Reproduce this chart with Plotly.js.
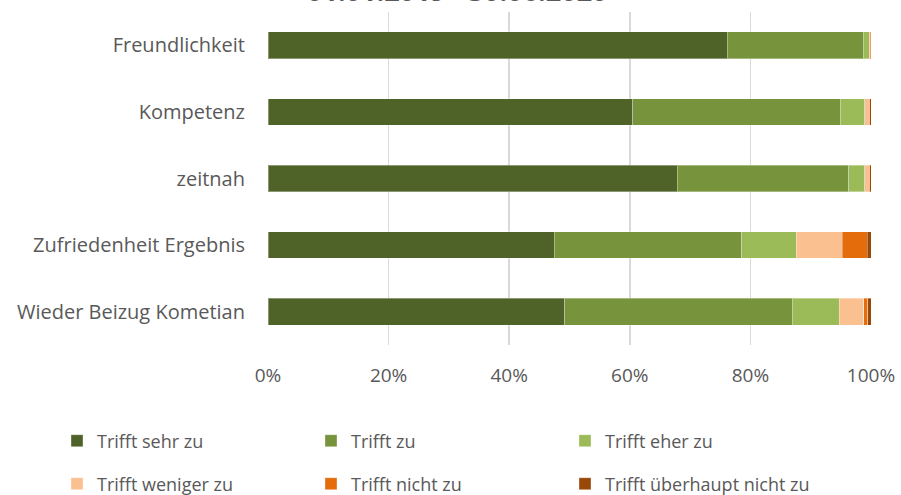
<!DOCTYPE html>
<html>
<head>
<meta charset="utf-8">
<script src="https://cdn.plot.ly/plotly-3.0.1.min.js"></script>
<style>
  html, body { margin: 0; padding: 0; background: #fff; }
  #chart { width: 901px; height: 495px; }
</style>
</head>
<body>
<div id="chart"></div>
<script>
let kategorien = ["Freundlichkeit", "Kompetenz", "zeitnah", "Zufriedenheit Ergebnis", "Wieder Beizug Kometian"];
let antworten = ["Trifft sehr zu", "Trifft zu", "Trifft eher zu", "Trifft weniger zu", "Trifft nicht zu", "Trifft überhaupt nicht zu"];
let farben = ["#4F6228", "#77933C", "#9BBB59", "#FAC090", "#E46C0A", "#984807"];

// Anteile je Antwort, Reihenfolge wie kategorien
let sehrZu = [0.762, 0.605, 0.679, 0.475, 0.492];
let zu = [0.225, 0.344, 0.284, 0.311, 0.377];
let eherZu = [0.010, 0.041, 0.027, 0.090, 0.078];
let wenigerZu = [0.002, 0.007, 0.007, 0.076, 0.041];
let nichtZu = [0.001, 0.001, 0.001, 0.042, 0.007];
let ueberhauptNicht = [0.000, 0.002, 0.002, 0.006, 0.005];

let werte = [sehrZu, zu, eherZu, wenigerZu, nichtZu, ueberhauptNicht];

let data = [];
for (let i = 0; i < antworten.length; i++) {
    data.push({
        type: "bar",
        orientation: "h",
        name: antworten[i],
        x: werte[i],
        y: kategorien,
        legend: i < 3 ? "legend" : "legend2", // zwei Legendenzeilen
        marker: { color: farben[i], line: { color: "rgba(255,255,255,0.35)", width: 1 } },
        hoverinfo: "name+x"
    });
}

// Plotbereich: links 268px, Breite 603px, oben 12px, Hoehe 333px
let legendeBasis = {
    orientation: "h",
    x: (57 - 268) / 603,
    xanchor: "left",
    yanchor: "middle",
    entrywidth: 209,
    traceorder: "normal",
    font: { size: 18, color: "#595959" },
    itemwidth: 30
};

let layout = {
    width: 901,
    height: 495,
    margin: { l: 268, r: 30, t: 12, b: 150, autoexpand: false },
    paper_bgcolor: "#fff",
    plot_bgcolor: "#fff",
    barmode: "stack",
    bargap: 0.6,
    font: { family: "Open Sans, sans-serif", size: 17, color: "#595959" },
    xaxis: {
        range: [0, 1],
        tickvals: [0, 0.2, 0.4, 0.6, 0.8, 1],
        tickformat: ".0%",
        showgrid: true,
        gridcolor: "#D9D9D9",
        gridwidth: 1.5,
        zeroline: false,
        showline: false,
        ticks: "",
        ticklabelstandoff: 17,
        tickfont: { size: 19, color: "#595959" }
    },
    yaxis: {
        autorange: "reversed",
        showgrid: false,
        zeroline: false,
        ticks: "",
        ticklabelstandoff: 22,
        tickfont: { size: 20, color: "#595959" }
    },
    legend: Object.assign({}, legendeBasis, { y: (345 - 441) / 333 }),
    legend2: Object.assign({}, legendeBasis, { y: (345 - 484) / 333 }),
    annotations: [{
        // Titel oben fast ganz abgeschnitten, wie im Original
        text: "<b>01.01.2019 - 30.06.2020</b>",
        xref: "paper",
        yref: "paper",
        x: (457 - 268) / 603,
        y: 1,
        yshift: 1,
        xanchor: "center",
        yanchor: "bottom",
        showarrow: false,
        font: { size: 27, color: "#595959" }
    }]
};

Plotly.newPlot("chart", data, layout, { displayModeBar: false, staticPlot: true });
</script>
</body>
</html>
